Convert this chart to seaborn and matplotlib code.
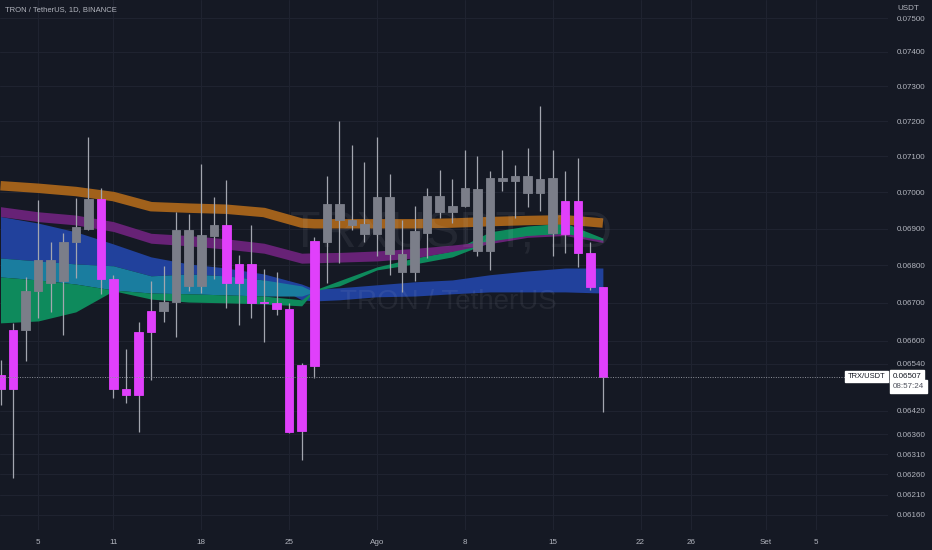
import numpy as np
import pandas as pd
import matplotlib
matplotlib.use("Agg")
import matplotlib.pyplot as plt
import matplotlib.dates as mdates
import matplotlib.transforms as mtransforms
from matplotlib.ticker import FixedLocator, FixedFormatter, NullLocator
import seaborn as sns

# -------------------------------------------------------------
# data : TRX/USDT daily candles (Binance), 2 Jul - 19 Aug 2022
dates = pd.date_range("2022-07-02", "2022-08-19", freq="D")

opens = [0.06510, 0.06475, 0.06629, 0.06732, 0.06815, 0.06757, 0.06862, 0.06899,
         0.06980, 0.06763, 0.06475, 0.06461, 0.06624, 0.06679, 0.06701, 0.06896,
         0.06745, 0.06880, 0.06911, 0.06754, 0.06803, 0.06699, 0.06700, 0.06683,
         0.06369, 0.06535, 0.06864, 0.06968, 0.06924, 0.06913, 0.06885, 0.06986,
         0.06831, 0.06783, 0.06889, 0.06990, 0.06946, 0.06962, 0.07010, 0.06839,
         0.07039, 0.07032, 0.07045, 0.06997, 0.07039, 0.06885, 0.06976, 0.06833,
         0.06741]
closes = [0.06475, 0.06629, 0.06732, 0.06815, 0.06754, 0.06863, 0.06903, 0.06980,
          0.06763, 0.06475, 0.06461, 0.06624, 0.06679, 0.06703, 0.06896, 0.06745,
          0.06883, 0.06909, 0.06752, 0.06803, 0.06699, 0.06702, 0.06683, 0.06367,
          0.06537, 0.06866, 0.06968, 0.06924, 0.06911, 0.06885, 0.06988, 0.06831,
          0.06783, 0.06892, 0.06990, 0.06946, 0.06963, 0.07011, 0.06839, 0.07039,
          0.07032, 0.07045, 0.06997, 0.07037, 0.06887, 0.06976, 0.06833, 0.06741,
          0.06507]
highs = [0.06550, 0.06646, 0.06770, 0.06978, 0.06863, 0.06887, 0.06983, 0.07154,
         0.07011, 0.06775, 0.06579, 0.06649, 0.06757, 0.06799, 0.06946, 0.06939,
         0.07079, 0.06986, 0.07034, 0.06828, 0.06910, 0.06791, 0.06782, 0.06699,
         0.06542, 0.06876, 0.07045, 0.07201, 0.07132, 0.07083, 0.07156, 0.07050,
         0.06924, 0.06962, 0.07013, 0.07062, 0.07036, 0.07118, 0.07101, 0.07060,
         0.07118, 0.07076, 0.07125, 0.07244, 0.07118, 0.07060, 0.07095, 0.06864,
         0.06743]
lows = [0.06434, 0.06250, 0.06548, 0.06659, 0.06675, 0.06616, 0.06766, 0.06896,
        0.06724, 0.06451, 0.06440, 0.06367, 0.06499, 0.06650, 0.06609, 0.06732,
        0.06725, 0.06764, 0.06686, 0.06642, 0.06661, 0.06598, 0.06668, 0.06364,
        0.06296, 0.06503, 0.06752, 0.06806, 0.06896, 0.06864, 0.06826, 0.06773,
        0.06728, 0.06759, 0.06819, 0.06928, 0.06915, 0.06958, 0.06826, 0.06788,
        0.07002, 0.06930, 0.06958, 0.06949, 0.06826, 0.06834, 0.06797, 0.06734,
        0.06417]
# bar colouring used by the indicator: m = magenta, g = gray
bar_kind = "mmggggggmmmmmgggggmmmmmmmmgggggggggggggggggggmmmm"

# moving-average ribbons, read at every few candles
ribbon_days = [0, 3, 6, 9, 12, 15, 18, 21, 24, 25, 27, 30, 33, 36, 39, 42, 45, 48]
orange_ma = [0.07018, 0.07011, 0.07002, 0.06988, 0.06960, 0.06956, 0.06953, 0.06944, 0.06915,
             0.06913, 0.06913, 0.06913, 0.06913, 0.06915, 0.06919, 0.06922, 0.06924, 0.06915]
purple_hi = [0.06960, 0.06946, 0.06937, 0.06919, 0.06887, 0.06881, 0.06872, 0.06860, 0.06833,
             0.06834, 0.06835, 0.06839, 0.06846, 0.06855, 0.06866, 0.06881, 0.06887, 0.06868]
purple_lo = [0.06933, 0.06919, 0.06910, 0.06892, 0.06860, 0.06853, 0.06844, 0.06833, 0.06806,
             0.06807, 0.06809, 0.06812, 0.06820, 0.06838, 0.06859, 0.06876, 0.06881, 0.06862]
blue_hi = [0.06933, 0.06915, 0.06891, 0.06858, 0.06823, 0.06804, 0.06793, 0.06777, 0.06750,
           0.06737, 0.06740, 0.06748, 0.06756, 0.06761, 0.06775, 0.06785, 0.06793, 0.06793]
blue_lo = [0.06820, 0.06812, 0.06804, 0.06799, 0.06772, 0.06777, 0.06772, 0.06761, 0.06708,
           0.06705, 0.06708, 0.06716, 0.06718, 0.06724, 0.06729, 0.06729, 0.06729, 0.06726]
teal_hi = [0.06820, 0.06812, 0.06804, 0.06799, 0.06772, 0.06777, 0.06772, 0.06761, 0.06745,
           0.06729, np.nan, np.nan, np.nan, np.nan, np.nan, np.nan, np.nan, np.nan]
teal_lo = [0.06769, 0.06761, 0.06750, 0.06734, 0.06726, 0.06724, 0.06721, 0.06718, 0.06718,
           0.06729, np.nan, np.nan, np.nan, np.nan, np.nan, np.nan, np.nan, np.nan]
green_hi = [0.06769, 0.06761, 0.06750, 0.06734, 0.06726, 0.06724, 0.06721, 0.06718, 0.06708,
            0.06734, 0.06759, 0.06796, 0.06820, 0.06839, 0.06891, 0.06907, 0.06915, 0.06874]
green_lo = [0.06647, 0.06652, 0.06676, 0.06732, 0.06710, 0.06702, 0.06700, 0.06697, 0.06692,
            0.06732, 0.06745, 0.06788, 0.06804, 0.06823, 0.06863, 0.06880, 0.06885, 0.06866]

last_price = 0.06507
y_ticks = [0.07500, 0.07400, 0.07300, 0.07200, 0.07100, 0.07000, 0.06900, 0.06800,
           0.06700, 0.06600, 0.06540, 0.06420, 0.06360, 0.06310, 0.06260, 0.06210, 0.06160]
x_tick_dates = ["2022-07-05", "2022-07-11", "2022-07-18", "2022-07-25", "2022-08-01",
                "2022-08-08", "2022-08-15", "2022-08-22", "2022-08-26", "2022-09-01",
                "2022-09-05"]
x_tick_labels = ["5", "11", "18", "25", "Ago", "8", "15", "22", "26", "Set", "5"]

# -------------------------------------------------------------
BG = "#151924"
GRID = "#1f2330"
TXT = "#b2b5be"
MAGENTA = "#e040fb"
GRAY = "#7b7e89"
WICK = "#a3a6af"

sns.set_theme(style="dark", rc={"axes.facecolor": BG, "figure.facecolor": BG})
plt.rcParams["font.family"] = ["Liberation Sans", "DejaVu Sans"]

fig = plt.figure(figsize=(9.32, 5.5), dpi=100)
ax = fig.add_axes([0, 20 / 550, 888 / 932, 530 / 550])
ax.set_facecolor(BG)
ax.set_yscale("log")

x = mdates.date2num(dates)
rx = mdates.date2num(dates[ribbon_days])

# ribbons
ax.fill_between(rx, blue_lo, blue_hi, color="#21419c", lw=0, zorder=1)
ax.fill_between(rx, teal_lo, teal_hi, color="#1a7d9f", lw=0, zorder=1.1)
ax.fill_between(rx, green_lo, green_hi, color="#0e8a5c", lw=0, zorder=1.2)
ax.fill_between(rx, purple_lo, purple_hi, color="#672276", lw=0, zorder=1.5)
sns.lineplot(x=rx, y=orange_ma, ax=ax, color="#a1611b", lw=6.8,
             solid_capstyle="butt", zorder=2)

# watermark
ax.text(0.508, 0.557, "TRXUSDT, 1D", transform=ax.transAxes, ha="center", va="center",
        fontsize=36, color="#d1d4dc", alpha=0.08, zorder=3,
        family=["Liberation Sans Narrow", "Liberation Sans", "DejaVu Sans"])
ax.text(0.5045, 0.430, "TRON / TetherUS", transform=ax.transAxes, ha="center", va="center",
        fontsize=20, color="#d1d4dc", alpha=0.08, zorder=3)

# candles
o = np.array(opens)
c = np.array(closes)
body_lo = np.minimum(o, c)
body_hi = np.maximum(o, c)
colors = [MAGENTA if k == "m" else GRAY for k in bar_kind]
ax.vlines(x, lows, highs, colors=WICK, lw=0.9, zorder=4)
ax.bar(x, body_hi - body_lo, bottom=body_lo, width=0.68, color=colors,
       edgecolor=colors, linewidth=0.6, zorder=5)

# last price line and labels
ax.axhline(last_price, color="#8e919a", lw=0.7, ls=(0, (1, 1.5)), zorder=6)
blend = mtransforms.blended_transform_factory(ax.transAxes, ax.transData)
ax.text(0.997, last_price, "TRX/USDT", transform=blend, ha="right", va="center",
        fontsize=5.4, color="#131722", zorder=7,
        bbox=dict(boxstyle="square,pad=0.3", fc="white", ec="white"))
ax.annotate("0.06507", xy=(1.0, last_price), xycoords=blend, xytext=(3.5, 0),
            textcoords="offset points", ha="left", va="center", fontsize=5.8,
            color="#131722", annotation_clip=False,
            bbox=dict(boxstyle="square,pad=0.35", fc="white", ec="white"))
ax.annotate("08:57:24", xy=(1.0, last_price), xycoords=blend, xytext=(3.5, -7),
            textcoords="offset points", ha="left", va="center", fontsize=5.8,
            color="#50535e", annotation_clip=False,
            bbox=dict(boxstyle="square,pad=0.35", fc="white", ec="white"))

# axes
ax.set_ylim(0.061235, 0.075537)
x0 = mdates.date2num(pd.Timestamp("2022-07-02"))
ax.set_xlim(x0 - 0.04, x0 + 70.72)

ax.yaxis.tick_right()
ax.yaxis.set_major_locator(FixedLocator(y_ticks))
ax.yaxis.set_major_formatter(FixedFormatter([f"{t:.5f}" for t in y_ticks]))
ax.yaxis.set_minor_locator(NullLocator())
ax.set_xticks(mdates.date2num(pd.to_datetime(x_tick_dates)))
ax.set_xticklabels(x_tick_labels)
ax.tick_params(axis="y", length=0, pad=6.5, labelsize=5.8, labelcolor=TXT)
ax.tick_params(axis="x", length=0, pad=6.5, labelsize=5.8, labelcolor=TXT)
ax.grid(True, color=GRID, lw=0.8)
ax.set_axisbelow(True)
for s in ax.spines.values():
    s.set_visible(False)
ax.set_xlabel("")
ax.set_ylabel("")

fig.text(5 / 932, 1 - 10 / 550, "TRON / TetherUS, 1D, BINANCE", fontsize=5.5,
         color=TXT, ha="left", va="center")
fig.text(897 / 932, 1 - 8 / 550, "USDT", fontsize=5.8, color=TXT, ha="left", va="center",
         bbox=dict(boxstyle="square,pad=0.4", fc=BG, ec=BG))

fig.savefig("out.png", dpi=100, facecolor=BG)
